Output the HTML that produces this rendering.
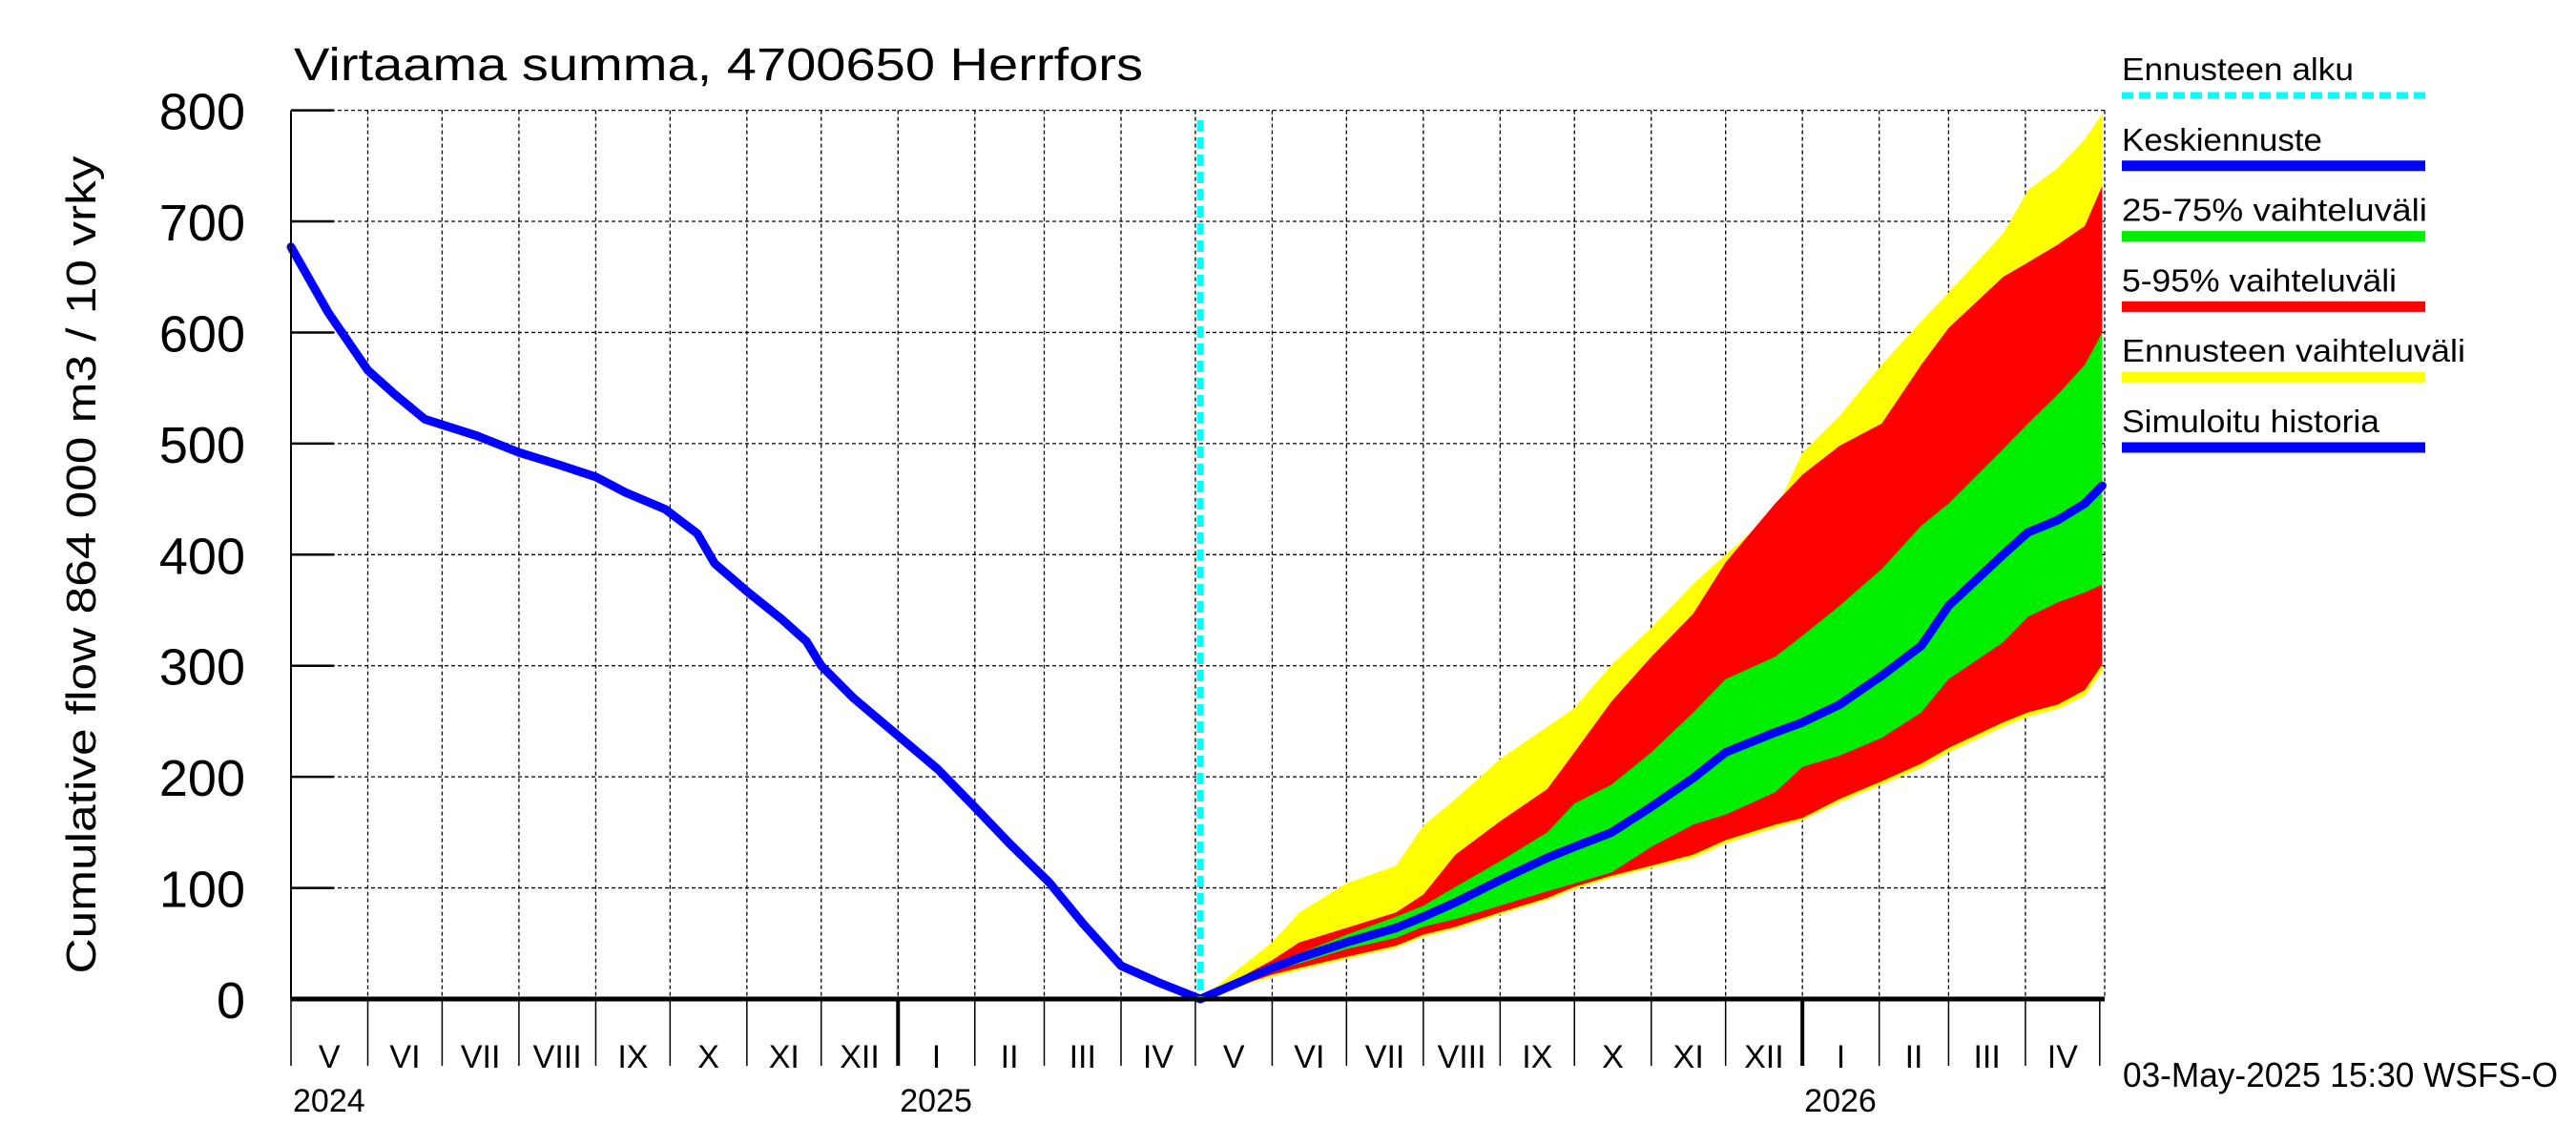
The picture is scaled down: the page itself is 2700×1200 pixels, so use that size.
<!DOCTYPE html>
<html><head><meta charset="utf-8"><style>
html,body{margin:0;padding:0;background:#fff}
svg{display:block;font-family:"Liberation Sans",sans-serif}
</style></head><body>
<svg id="chart" width="2700" height="1200" viewBox="0 0 2700 1200" xmlns="http://www.w3.org/2000/svg">
<rect width="2700" height="1200" fill="#fff"/>
<g id="grid"></g>
<g id="bands"></g>
<g id="lines"></g>
<g id="axes"></g>
<text x="308" y="84" font-size="48" textLength="890" lengthAdjust="spacingAndGlyphs">Virtaama summa, 4700650 Herrfors</text>
<text transform="translate(100,592) rotate(-90)" text-anchor="middle" font-size="44" textLength="857" lengthAdjust="spacingAndGlyphs">Cumulative flow    864 000 m3 / 10 vrky</text>
<text x="2225" y="1139" font-size="36" textLength="456" lengthAdjust="spacingAndGlyphs">03-May-2025 15:30 WSFS-O</text>
<g id="legend"></g>
</svg>
<script>
// ---- data ----
const yTicks = [0,100,200,300,400,500,600,700,800];
const monthLabels = ["V","VI","VII","VIII","IX","X","XI","XII","I","II","III","IV","V","VI","VII","VIII","IX","X","XI","XII","I","II","III","IV"];
const monthLengths = [31,30,31,31,30,31,30,31,31,28,31,30,31,30,31,31,30,31,30,31,31,28,31,30];
const yearLabels = ["2024","2025","2026"];
const yearStartMonth = [0,8,20];
const historyDays = [0,15,31,42,54,75,92,108,123,135,151,164,171,184,198,208,214,227,245,261,275,290,306,320,335,350,367];
const historyValues = [677,618,566,544,522,507,492,481,470,456,441,419,392,367,342,322,300,271,237,207,175,140,105,67,30,15,0];
const forecastDays = [367,396,407,426,446,457,470,488,507,518,533,549,566,579,599,610,625,642,658,669,691,701,713,724,731];
const yellowTop = [0,51,78,104,120,156,180,216,245,262,301,334,374,400,439,492,525,571,610,636,689,728,748,774,797];
const redTop = [0,35,51,64,78,94,130,160,189,222,268,308,347,393,446,472,498,518,571,604,650,663,679,696,732];
const greenTop = [0,32,41,58,74,84,101,124,150,176,193,222,258,288,308,327,354,387,426,446,495,518,544,571,600];
const median = [0,28,37,51,64,74,87,107,127,137,150,173,199,222,240,249,265,291,318,354,400,420,431,446,462];
const greenBottom = [0,25,32,45,55,65,72,84,97,104,114,137,157,166,186,209,219,235,258,288,321,344,357,366,373];
const redBottom = [0,22,28,38,48,58,65,78,91,101,111,120,130,143,157,163,180,196,212,226,249,258,265,278,301];
const yellowBottom = [0,20,26,36,46,56,63,76,89,99,109,118,127,140,154,161,177,193,208,222,245,254,261,273,295];
const forecastStartDay = 367;
const totalDays = 732;

// ---- axes functions ----
const X0=305, X1=2206, Y0=1047, Y800=115.6;
const xs = d => X0 + d*(X1-X0)/totalDays;
const ys = v => Y0 - v*(Y0-Y800)/800;
const NS="http://www.w3.org/2000/svg";
function mk(tag, attrs, parent){const e=document.createElementNS(NS,tag);for(const k in attrs)e.setAttribute(k,attrs[k]);parent.appendChild(e);return e;}
const grid=document.getElementById('grid'), bands=document.getElementById('bands'), lines=document.getElementById('lines'), axes=document.getElementById('axes'), legend=document.getElementById('legend');

// grid horizontal + y ticks
yTicks.forEach(v=>{
  const g=mk('line',{x1:X0,x2:X1,y1:ys(v),y2:ys(v),stroke:'#000','stroke-width':1.3,'stroke-dasharray':'4,3'},grid);
  
  
  const t=mk('line',{x1:X0,x2:X0+45,y1:ys(v),y2:ys(v),stroke:'#000','stroke-width':2.5},axes);
  
  
  const l=mk('text',{x:257,y:ys(v)+20,'text-anchor':'end','font-size':54},axes);
  
  
  l.textContent=v;
});
// months
let d=0;
monthLengths.forEach((len,i)=>{
  const xa=xs(d), xb=xs(d+len);
  if(i>0){
    const g=mk('line',{x1:xa,x2:xa,y1:Y800,y2:Y0,stroke:'#000','stroke-width':1.3,'stroke-dasharray':'4,3'},grid);
    
    
  }
  const isYear=yearStartMonth.includes(i)&&i>0;
  const t=mk('line',{x1:xa,x2:xa,y1:Y0,y2:1117,stroke:'#000','stroke-width':isYear?4:1.5},axes);
  
  
  const l=mk('text',{x:(xa+xb)/2,y:1119,'text-anchor':'middle','font-size':34},axes);
  
  
  l.textContent=monthLabels[i];
  d+=len;
});
const endT=mk('line',{x1:xs(d),x2:xs(d),y1:Y0,y2:1117,stroke:'#000','stroke-width':1.5},axes);


const rb=mk('line',{x1:X1,x2:X1,y1:Y800,y2:Y0,stroke:'#000','stroke-width':1.3,'stroke-dasharray':'4,3'},grid);


// year labels
yearLabels.forEach((y,i)=>{
  let dd=0; for(let k=0;k<yearStartMonth[i];k++) dd+=monthLengths[k];
  const l=mk('text',{x:xs(dd)+2,y:1165,'font-size':34},axes);
  
  
  l.textContent=y;
});
// axis lines
const la=mk('line',{x1:X0,x2:X0,y1:Y800,y2:Y0,stroke:'#000','stroke-width':2},axes);


const ba=mk('line',{x1:X0,x2:X1,y1:Y0,y2:Y0,stroke:'#000','stroke-width':5},axes);



// bands
function band(top,bot,color,name){
  let p='';
  forecastDays.forEach((dd,i)=>{p+=(i?'L':'M')+xs(dd).toFixed(1)+','+ys(top[i]).toFixed(1);});
  for(let i=forecastDays.length-1;i>=0;i--) p+='L'+xs(forecastDays[i]).toFixed(1)+','+ys(bot[i]).toFixed(1);
  const e=mk('path',{d:p+'Z',fill:color},bands);
  
  
}
band(yellowTop,yellowBottom,'#ffff00','band-min-max');
band(redTop,redBottom,'#ff0000','band-5-95');
band(greenTop,greenBottom,'#00ee00','band-25-75');

function line(days,vals,name){
  const pts=days.map((dd,i)=>xs(dd).toFixed(1)+','+ys(vals[i]).toFixed(1)).join(' ');
  const e=mk('polyline',{points:pts,fill:'none',stroke:'#0000ff','stroke-width':9,'stroke-linejoin':'round','stroke-linecap':'round'},lines);
  
  
}
line(historyDays,historyValues,'simulated-history-line');
line(forecastDays,median,'median-forecast-line');
const cy=mk('line',{x1:xs(forecastStartDay),x2:xs(forecastStartDay),y1:126,y2:Y0,stroke:'#00ffff','stroke-width':7,'stroke-dasharray':'12,6'},lines);



// legend
const legItems=[["Ennusteen alku","#00ffff",true],["Keskiennuste","#0000ff"],["25-75% vaihteluväli","#00ee00"],["5-95% vaihteluväli","#ff0000"],["Ennusteen vaihteluväli","#ffff00"],["Simuloitu historia","#0000ff"]];
const legW=[243,210,320,288,360,270];
legItems.forEach((it,i)=>{
  const by=84+i*73.8;
  const t=mk('text',{x:2224,y:by,'font-size':33,textLength:legW[i],lengthAdjust:'spacingAndGlyphs'},legend);
  
  
  t.textContent=it[0];
  const l=mk('line',{x1:2224,x2:2542,y1:by+16,y2:by+16,stroke:it[1],'stroke-width':it[2]?7:11},legend);
  if(it[2]) l.setAttribute('stroke-dasharray','12,6');
  
  
});
</script>
</body></html>
